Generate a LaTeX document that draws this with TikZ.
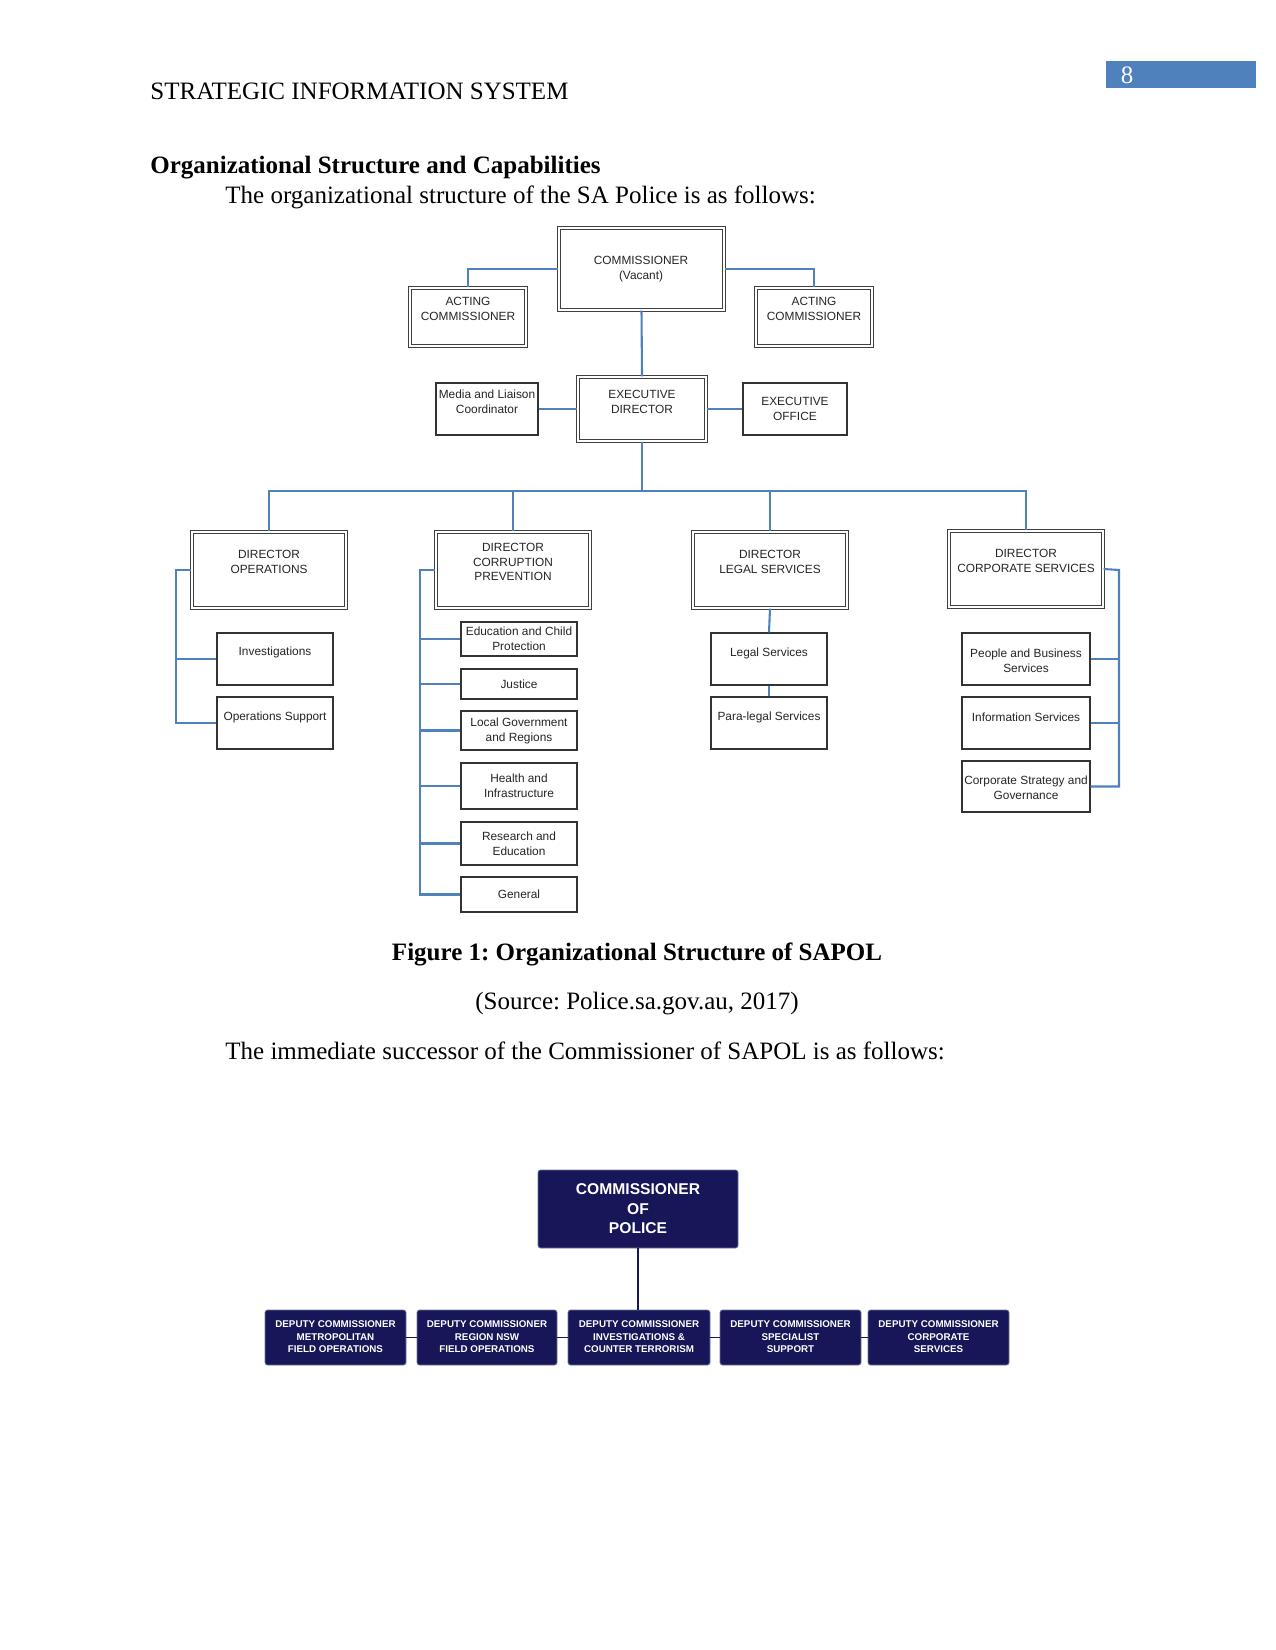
\documentclass[tikz,border=0pt]{standalone}
\usepackage{fontspec}
\setmainfont{Liberation Serif}
\newfontfamily\arialf{Liberation Sans}
\usetikzlibrary{fit,calc}
\definecolor{connblue}{RGB}{79,129,189}
\definecolor{pagebox}{RGB}{79,129,189}
\definecolor{navy}{RGB}{22,22,88}
\frenchspacing
\begin{document}
\begin{tikzpicture}[x=0.48pt,y=-0.48pt,
 dbox/.style={draw=black!75, line width=0.55pt, double=white, double distance=0.5pt, inner sep=0pt},
 sbox/.style={draw=black!80, line width=0.7pt, inner sep=0pt},
 ct/.style={font=\arialf\fontsize{5.7}{7.1}\selectfont, align=center, inner sep=0pt, text=black!85},
 conn/.style={draw=connblue, line width=1pt},
 nbox/.style={fill=navy, draw=navy!60!white, line width=0.4pt, rounded corners=1.2pt, inner sep=0pt},
 nt/.style={font=\arialf\bfseries\fontsize{4.7}{6}\selectfont, text=white, align=center, inner sep=0pt},
 nconn/.style={draw=navy, line width=1pt},
 body/.style={font=\fontsize{12}{14}\selectfont, inner sep=0pt, anchor=base west}]
\useasboundingbox (0,0) rectangle (1275,1650);
\fill[white] (0,0) rectangle (1275,1650);

% header
\node[body] (hdr) at (150,100) {STRATEGIC INFORMATION SYSTEM};
\node[fill=pagebox, inner sep=0pt, fit={(1106,61)(1256,88)}] (pnbox) {};
\node[font=\fontsize{12}{14}\selectfont, text=white, inner sep=0pt] (pn) at (1127,75) {8};

\node[body, font=\bfseries\fontsize{12}{14}\selectfont] (sec) at (150,174) {Organizational Structure and Capabilities};
\node[body] (intro) at (225,204) {The organizational structure of the SA Police is as follows:};

% ---------- chart 1 boxes ----------
\node[dbox, fit={(559,228)(724,310)}] (comm) {};
\node[ct] (comm-t) at (641,269) {COMMISSIONER\\(Vacant)};
\node[dbox, fit={(410,288)(526,346)}] (actL) {};
\node[ct] (actL-t) at (468,309) {ACTING\\COMMISSIONER};
\node[dbox, fit={(756,288)(872,346)}] (actR) {};
\node[ct] (actR-t) at (814,309) {ACTING\\COMMISSIONER};

\node[dbox, fit={(578,377)(706,441)}] (exec) {};
\node[ct] (exec-t) at (642,402) {EXECUTIVE\\DIRECTOR};
\node[sbox, fit={(436,383)(538,435)}] (media) {};
\node[ct] (media-t) at (487,402) {Media and Liaison\\Coordinator};
\node[sbox, fit={(743,383)(847,435)}] (office) {};
\node[ct] (office-t) at (795,409) {EXECUTIVE\\OFFICE};

\node[dbox, fit={(192,532)(346,608)}] (dOps) {};
\node[ct] (dOps-t) at (269,562) {DIRECTOR\\OPERATIONS};
\node[dbox, fit={(436,532)(590,608)}] (dCP) {};
\node[ct] (dCP-t) at (513,562) {DIRECTOR\\CORRUPTION\\PREVENTION};
\node[dbox, fit={(693,532)(847,608)}] (dLS) {};
\node[ct] (dLS-t) at (770,562) {DIRECTOR\\LEGAL SERVICES};
\node[dbox, fit={(949,531)(1103,607)}] (dCS) {};
\node[ct] (dCS-t) at (1026,561) {DIRECTOR\\CORPORATE SERVICES};

% operations children
\node[sbox, fit={(217,633)(333,685)}] (inv) {};
\node[ct] (inv-t) at (275,652) {Investigations};
\node[sbox, fit={(217,697)(333,749)}] (opsup) {};
\node[ct] (opsup-t) at (275,717) {Operations Support};

% corruption prevention children
\node[sbox, fit={(461,622)(577,656)}] (edu) {};
\node[ct] (edu-t) at (519,639) {Education and Child\\Protection};
\node[sbox, fit={(461,669)(577,699)}] (just) {};
\node[ct] (just-t) at (519,684) {Justice};
\node[sbox, fit={(461,711)(577,750)}] (lgov) {};
\node[ct] (lgov-t) at (519,731) {Local Government\\and Regions};
\node[sbox, fit={(461,763)(577,809)}] (hlth) {};
\node[ct] (hlth-t) at (519,786) {Health and\\Infrastructure};
\node[sbox, fit={(461,822)(577,865)}] (resr) {};
\node[ct] (resr-t) at (519,844) {Research and\\Education};
\node[sbox, fit={(461,877)(577,912)}] (genl) {};
\node[ct] (genl-t) at (519,894) {General};

% legal children
\node[sbox, fit={(711,633)(827,685)}] (legal) {};
\node[ct] (legal-t) at (769,653) {Legal Services};
\node[sbox, fit={(711,697)(827,749)}] (para) {};
\node[ct] (para-t) at (769,717) {Para-legal Services};

% corporate children
\node[sbox, fit={(962,633)(1090,685)}] (ppl) {};
\node[ct] (ppl-t) at (1026,661) {People and Business\\Services};
\node[sbox, fit={(962,697)(1090,749)}] (info) {};
\node[ct] (info-t) at (1026,717) {Information Services};
\node[sbox, fit={(962,761)(1090,812)}] (strat) {};
\node[ct] (strat-t) at (1026,788) {Corporate Strategy and\\Governance};

% ---------- chart 1 connectors ----------
\draw[conn] (comm.west) -| (actL.north);
\draw[conn] (comm.east) -| (actR.north);
\draw[conn] (comm.south) -- (exec.north);
\draw[conn] (media.east) -- (exec.west);
\draw[conn] (exec.east) -- (office.west);
\coordinate (bus) at (642,491);
\draw[conn] (exec.south) -- (bus);
\draw[conn] (dOps.north) |- (bus) -| (dCS.north);
\draw[conn] (dCP.north) -- (dCP.north |- bus);
\draw[conn] (dLS.north) -- (dLS.north |- bus);

\coordinate (opsrail) at (176,570);
\draw[conn] (dOps.west) -- (opsrail) |- (opsup.west);
\draw[conn] (inv.west) -- (inv.west -| opsrail);

\coordinate (cprail) at (420,570);
\draw[conn] (dCP.west) -- (cprail) |- (genl.west);
\draw[conn] (edu.west) -- (edu.west -| cprail);
\draw[conn] (just.west) -- (just.west -| cprail);
\draw[conn] (lgov.west) -- (lgov.west -| cprail);
\draw[conn] (hlth.west) -- (hlth.west -| cprail);
\draw[conn] (resr.west) -- (resr.west -| cprail);

\draw[conn] (dLS.south) -- (legal.north);
\draw[conn] (legal.south) -- (para.north);

\coordinate (csrail) at (1119,570);
\draw[conn] (dCS.east) -- (csrail) |- (strat.east);
\draw[conn] (ppl.east) -- (ppl.east -| csrail);
\draw[conn] (info.east) -- (info.east -| csrail);

% captions
\node[font=\bfseries\fontsize{12}{14}\selectfont, inner sep=0pt, anchor=base] (cap) at (637,960) {Figure 1: Organizational Structure of SAPOL};
\node[font=\fontsize{12}{14}\selectfont, inner sep=0pt, anchor=base] (src) at (637,1009) {(Source: Police.sa.gov.au, 2017)};
\node[body] (succ) at (225,1059) {The immediate successor of the Commissioner of SAPOL is as follows:};

% ---------- chart 2 ----------
\node[nbox, fit={(538,1170)(738,1248)}] (cop) {};
\node[nt, font=\arialf\bfseries\fontsize{7.5}{9.4}\selectfont] (cop-t) at (638,1209) {COMMISSIONER\\OF\\POLICE};
\node[nbox, fit={(265,1310)(406,1365)}] (d1) {};
\node[nt] (d1-t) at (335.5,1337) {DEPUTY COMMISSIONER\\METROPOLITAN\\FIELD OPERATIONS};
\node[nbox, fit={(417,1310)(557,1365)}] (d2) {};
\node[nt] (d2-t) at (487,1337) {DEPUTY COMMISSIONER\\REGION NSW\\FIELD OPERATIONS};
\node[nbox, fit={(568,1310)(710,1365)}] (d3) {};
\node[nt] (d3-t) at (639,1337) {DEPUTY COMMISSIONER\\INVESTIGATIONS \&\\COUNTER TERRORISM};
\node[nbox, fit={(720,1310)(861,1365)}] (d4) {};
\node[nt] (d4-t) at (790.5,1337) {DEPUTY COMMISSIONER\\SPECIALIST\\SUPPORT};
\node[nbox, fit={(868,1310)(1009,1365)}] (d5) {};
\node[nt] (d5-t) at (938.5,1337) {DEPUTY COMMISSIONER\\CORPORATE\\SERVICES};

\draw[nconn] (cop.south) -- (cop.south |- d3.north);
\draw[nconn, line width=0.8pt] (d1.east) -- (d2.west);
\draw[nconn, line width=0.8pt] (d2.east) -- (d3.west);
\draw[nconn, line width=0.8pt] (d3.east) -- (d4.west);
\draw[nconn, line width=0.8pt] (d4.east) -- (d5.west);
\end{tikzpicture}
\end{document}
